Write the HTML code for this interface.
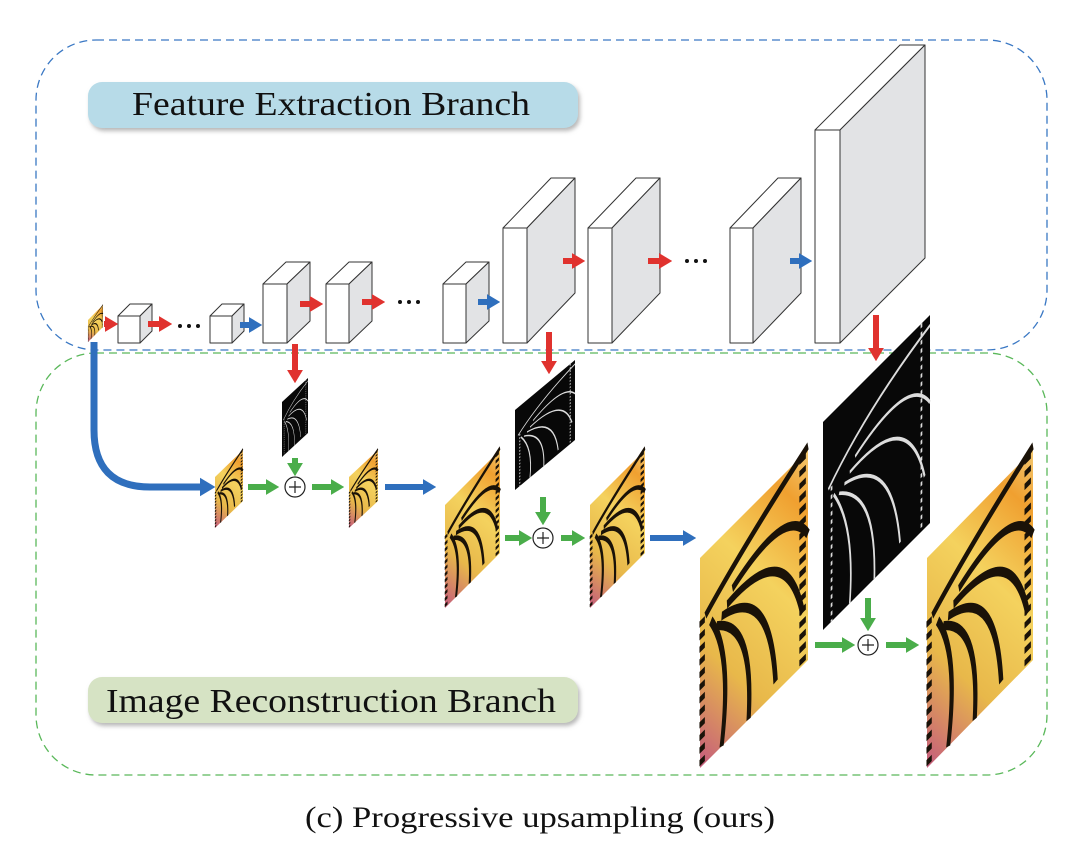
<!DOCTYPE html>
<html><head><meta charset="utf-8"><style>
html,body{margin:0;padding:0;background:#fff;width:1080px;height:851px;overflow:hidden}
svg{display:block}
</style></head><body>
<svg width="1080" height="851" viewBox="0 0 1080 851" xmlns="http://www.w3.org/2000/svg">
<defs>
<marker id="mr" viewBox="0 0 10 12" refX="0" refY="6" markerWidth="2.2" markerHeight="2.8" orient="auto" markerUnits="strokeWidth"><path d="M0,0 L10,6 L0,12 z" fill="#e0322e"/></marker>
<marker id="mb" viewBox="0 0 10 12" refX="0" refY="6" markerWidth="2.2" markerHeight="2.8" orient="auto" markerUnits="strokeWidth"><path d="M0,0 L10,6 L0,12 z" fill="#2f6fbd"/></marker>
<marker id="mg" viewBox="0 0 10 12" refX="0" refY="6" markerWidth="2.2" markerHeight="2.8" orient="auto" markerUnits="strokeWidth"><path d="M0,0 L10,6 L0,12 z" fill="#4aad4a"/></marker>
<filter id="sh" x="-5%" y="-20%" width="110%" height="150%"><feDropShadow dx="2" dy="3" stdDeviation="2" flood-color="#888" flood-opacity="0.6"/></filter>
<linearGradient id="bg" x1="0" y1="1" x2="1" y2="0">
<stop offset="0" stop-color="#c45a7e"/><stop offset="0.3" stop-color="#e8b84a"/><stop offset="0.6" stop-color="#f4d25e"/><stop offset="0.85" stop-color="#f0a030"/><stop offset="1" stop-color="#f3c870"/>
</linearGradient>
<g id="bf">
<rect x="0" y="0" width="100" height="100" fill="url(#bg)"/>
<g fill="none" stroke="#1a1208" stroke-width="4">
<path d="M5,30 Q40,15 100,-2"/>
<path d="M10,35 Q30,60 20,100"/>
<path d="M15,40 Q50,55 45,100"/>
<path d="M20,38 Q65,45 70,95"/>
<path d="M25,35 Q80,30 95,75"/>
<path d="M30,30 Q80,15 100,40"/>
<path d="M95,0 L95,100" stroke-width="6" stroke-dasharray="3 3"/>
<path d="M2,30 L2,100" stroke-width="5" stroke-dasharray="3 3"/>
</g>
</g>
<g id="ed">
<rect x="0" y="0" width="100" height="100" fill="#080808"/>
<g fill="none" stroke="#ddd" stroke-width="1.6">
<path d="M5,35 Q40,15 100,5"/>
<path d="M10,40 Q30,65 25,100"/>
<path d="M15,42 Q50,58 48,100"/>
<path d="M20,40 Q65,48 72,95"/>
<path d="M25,37 Q80,32 95,75"/>
<path d="M30,32 Q80,18 100,42"/>
<path d="M92,0 L92,100" stroke-dasharray="2 2"/>
<path d="M8,35 L8,100" stroke-dasharray="2 2"/>
</g>
</g>
</defs>

<rect x="36" y="40" width="1011" height="310" rx="60" fill="none" stroke="#3a78c4" stroke-width="1.3" stroke-dasharray="8 5"/>
<rect x="36" y="353" width="1011" height="422" rx="60" fill="none" stroke="#5ab85a" stroke-width="1.3" stroke-dasharray="8 5"/>

<rect x="88" y="82" width="490" height="46" rx="14" fill="#b7dbe8" filter="url(#sh)"/>
<text x="132" y="115" font-family="Liberation Serif, serif" font-size="34" fill="#111" textLength="398" lengthAdjust="spacingAndGlyphs">Feature Extraction Branch</text>
<rect x="88" y="677" width="490" height="46" rx="14" fill="#d6e3c4" filter="url(#sh)"/>
<text x="106" y="712" font-family="Liberation Serif, serif" font-size="34" fill="#111" textLength="450" lengthAdjust="spacingAndGlyphs">Image Reconstruction Branch</text>
<text x="305" y="827" font-family="Liberation Serif, serif" font-size="30" fill="#111" textLength="470" lengthAdjust="spacingAndGlyphs">(c) Progressive upsampling (ours)</text>

<g stroke="#333" stroke-width="1" stroke-linejoin="round">
<g><polygon points="118,316 130,304 152,304 140,316" fill="#fff"/><polygon points="140,316 152,304 152,331 140,343" fill="#e2e3e5"/><rect x="118" y="316" width="22" height="27" fill="#fff"/></g>
<g><polygon points="210,316 222,304 244,304 232,316" fill="#fff"/><polygon points="232,316 244,304 244,331 232,343" fill="#e2e3e5"/><rect x="210" y="316" width="22" height="27" fill="#fff"/></g>
<g><polygon points="263,284 286,262 310,262 287,284" fill="#fff"/><polygon points="287,284 310,262 310,321 287,343" fill="#e2e3e5"/><rect x="263" y="284" width="24" height="59" fill="#fff"/></g>
<g><polygon points="326,284 349,262 372,262 349,284" fill="#fff"/><polygon points="349,284 372,262 372,321 349,343" fill="#e2e3e5"/><rect x="326" y="284" width="23" height="59" fill="#fff"/></g>
<g><polygon points="443,284 466,262 489,262 466,284" fill="#fff"/><polygon points="466,284 489,262 489,321 466,343" fill="#e2e3e5"/><rect x="443" y="284" width="23" height="59" fill="#fff"/></g>
<g><polygon points="503,228 551,178 575,178 527,228" fill="#fff"/><polygon points="527,228 575,178 575,293 527,343" fill="#e2e3e5"/><rect x="503" y="228" width="24" height="115" fill="#fff"/></g>
<g><polygon points="588,228 636,178 660,178 612,228" fill="#fff"/><polygon points="612,228 660,178 660,293 612,343" fill="#e2e3e5"/><rect x="588" y="228" width="24" height="115" fill="#fff"/></g>
<g><polygon points="730,228 778,178 801,178 753,228" fill="#fff"/><polygon points="753,228 801,178 801,293 753,343" fill="#e2e3e5"/><rect x="730" y="228" width="23" height="115" fill="#fff"/></g>
<g><polygon points="815,130 900,45 925,45 840,130" fill="#fff"/><polygon points="840,130 925,45 925,258 840,343" fill="#e2e3e5"/><rect x="815" y="130" width="25" height="213" fill="#fff"/></g>
</g>

<g fill="#111">
<circle cx="180" cy="326" r="2"/><circle cx="189" cy="326" r="2"/><circle cx="198" cy="326" r="2"/>
<circle cx="400" cy="302" r="2"/><circle cx="409" cy="302" r="2"/><circle cx="418" cy="302" r="2"/>
<circle cx="687" cy="261" r="2"/><circle cx="696" cy="261" r="2"/><circle cx="705" cy="261" r="2"/>
</g>

<use href="#bf" transform="matrix(0.15,-0.15,0,0.22,88,320)"/>
<use href="#bf" transform="matrix(0.28,-0.27,0,0.51,215,477)"/>
<use href="#bf" transform="matrix(0.29,-0.27,0,0.51,349,477)"/>
<use href="#bf" transform="matrix(0.55,-0.55,0,1.03,445,505)"/>
<use href="#bf" transform="matrix(0.55,-0.55,0,1.03,590,505)"/>
<use href="#bf" transform="matrix(1.08,-1.08,0,2.10,700,558)"/>
<use href="#bf" transform="matrix(1.06,-1.08,0,2.10,927,558)"/>
<use href="#ed" transform="matrix(0.26,-0.24,0,0.55,282,402)"/>
<use href="#ed" transform="matrix(0.60,-0.50,0,0.80,515,410)"/>
<use href="#ed" transform="matrix(1.07,-1.07,0,2.08,823,422)"/>

<g stroke-width="6" fill="none">
<line x1="104" y1="324" x2="105" y2="324" stroke="#e0322e" marker-end="url(#mr)"/>
<line x1="148" y1="324" x2="159" y2="324" stroke="#e0322e" marker-end="url(#mr)"/>
<line x1="240" y1="325" x2="249" y2="325" stroke="#2f6fbd" marker-end="url(#mb)"/>
<line x1="300" y1="304" x2="310" y2="304" stroke="#e0322e" marker-end="url(#mr)"/>
<line x1="362" y1="302" x2="372" y2="302" stroke="#e0322e" marker-end="url(#mr)"/>
<line x1="478" y1="302" x2="487" y2="302" stroke="#2f6fbd" marker-end="url(#mb)"/>
<line x1="563" y1="261" x2="572" y2="261" stroke="#e0322e" marker-end="url(#mr)"/>
<line x1="648" y1="261" x2="659" y2="261" stroke="#e0322e" marker-end="url(#mr)"/>
<line x1="790" y1="261" x2="799" y2="261" stroke="#2f6fbd" marker-end="url(#mb)"/>
<line x1="295" y1="344" x2="295" y2="370" stroke="#e0322e" marker-end="url(#mr)"/>
<line x1="549" y1="332" x2="549" y2="361" stroke="#e0322e" marker-end="url(#mr)"/>
<line x1="876" y1="315" x2="876" y2="348" stroke="#e0322e" marker-end="url(#mr)"/>
<path d="M94,342 L94,430 Q94,487 150,487 L200,487" stroke="#2f6fbd" stroke-width="7" marker-end="url(#mb)"/>
<line x1="248" y1="487" x2="266" y2="487" stroke="#4aad4a" marker-end="url(#mg)"/>
<line x1="295" y1="458" x2="295" y2="463" stroke="#4aad4a" marker-end="url(#mg)"/>
<line x1="312" y1="487" x2="331" y2="487" stroke="#4aad4a" marker-end="url(#mg)"/>
<line x1="385" y1="487" x2="423" y2="487" stroke="#2f6fbd" marker-end="url(#mb)"/>
<line x1="505" y1="538" x2="519" y2="538" stroke="#4aad4a" marker-end="url(#mg)"/>
<line x1="543" y1="497" x2="543" y2="512" stroke="#4aad4a" marker-end="url(#mg)"/>
<line x1="561" y1="538" x2="572" y2="538" stroke="#4aad4a" marker-end="url(#mg)"/>
<line x1="650" y1="538" x2="683" y2="538" stroke="#2f6fbd" marker-end="url(#mb)"/>
<line x1="815" y1="645" x2="842" y2="645" stroke="#4aad4a" marker-end="url(#mg)"/>
<line x1="868" y1="598" x2="868" y2="618" stroke="#4aad4a" marker-end="url(#mg)"/>
<line x1="886" y1="645" x2="906" y2="645" stroke="#4aad4a" marker-end="url(#mg)"/>
</g>

<g fill="#fff" stroke="#222" stroke-width="1.2">
<circle cx="295" cy="487" r="10"/><circle cx="543" cy="538" r="10"/><circle cx="868" cy="645" r="10"/>
</g>
<g stroke="#222" stroke-width="1.2">
<path d="M289,487 h12 M295,481 v12"/><path d="M537,538 h12 M543,532 v12"/><path d="M862,645 h12 M868,639 v12"/>
</g>
</svg>
</body></html>
